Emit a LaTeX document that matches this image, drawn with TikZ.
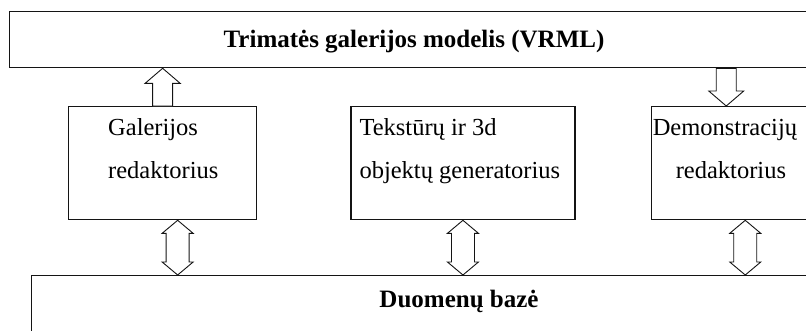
\documentclass[tikz,border=0pt]{standalone}
\usepackage{fontspec}
\setmainfont{Liberation Serif}
\usepackage{tikz}
\usetikzlibrary{positioning, calc}
\definecolor{linegray}{RGB}{20,20,20}
\tikzset{
  box/.style={rectangle, draw=linegray, line width=1.3pt, inner sep=0pt,
    anchor=north west},
  boxtext/.style={anchor=base west, inner sep=0pt, align=left},
  titletext/.style={anchor=base, inner sep=0pt, font=\fontsize{25}{43}\selectfont\bfseries},
  fatarrow/.style={draw=linegray, line width=0.9pt, fill=white, line join=miter},
}
% block arrow: shaft at #1, head at the level of #2
\newcommand{\singlearr}[2]{%
  \draw[fatarrow] let \p1=(#1), \p2=(#2), \n1={sign(\y1-\y2)} in
    ({\x1-10pt},\y1) -- ({\x1-10pt},{\y2+(\n1)*15pt}) -- ({\x1-17.5pt},{\y2+(\n1)*15pt})
    -- (\x1,\y2) -- ({\x1+17.5pt},{\y2+(\n1)*15pt}) -- ({\x1+10pt},{\y2+(\n1)*15pt})
    -- ({\x1+10pt},\y1) -- cycle;}
% double block arrow, from #1 (top) down to the level of #2
\newcommand{\doublearr}[2]{%
  \draw[fatarrow] let \p1=(#1), \p2=(#2) in
    (\x1,\y1) -- ({\x1+15.5pt},{\y1-13pt}) -- ({\x1+11.5pt},{\y1-13pt})
    -- ({\x1+11.5pt},{\y2+13pt}) -- ({\x1+15.5pt},{\y2+13pt}) -- (\x1,\y2)
    -- ({\x1-15.5pt},{\y2+13pt}) -- ({\x1-11.5pt},{\y2+13pt})
    -- ({\x1-11.5pt},{\y1-13pt}) -- ({\x1-15.5pt},{\y1-13pt}) -- cycle;}

\begin{document}
\begin{tikzpicture}[x=1pt, y=-1pt, font=\fontsize{24.5}{43}\selectfont]
  \useasboundingbox (0,0) rectangle (806,330);
  \clip (0,0) rectangle (806,330);

  \node[box, minimum width=810pt, minimum height=56pt] (model) at (9,11) {};
  \node[titletext] (modeltitle) at (414,47) {Trimatės galerijos modelis (VRML)};

  \node[box, minimum width=188pt, minimum height=113pt] (gal) at (68,106) {};
  \node[box, minimum width=224pt, minimum height=113pt, right=93pt of gal.north east, anchor=north west] (tex) {};
  \node[box, minimum width=200pt, minimum height=113pt, right=75pt of tex.north east, anchor=north west] (demo) {};

  % base anchor sits on the second line
  \node[boxtext] (galtext) at ($(gal.north west)+(40,72)$) {Galerijos\\redaktorius};
  \node[boxtext] (textext) at ($(tex.north west)+(9,72)$) {Tekstūrų ir 3d\\objektų generatorius};
  \node[boxtext] (demotext) at ($(demo.north west)+(2,72)$) {Demonstracijų\\\hspace{23pt}redaktorius};

  \node[box, minimum width=856pt, minimum height=80pt] (db) at (31,275) {};
  \node[titletext] (dbtitle) at (459,307) {Duomenų bazė};

  \singlearr{gal.north}{model.south}
  \singlearr{$(model.south -| demo.north)+(-25,0)$}{demo.north}

  \doublearr{$(gal.south)+(15,0)$}{db.north}
  \doublearr{tex.south}{db.north}
  \doublearr{$(demo.south)+(-6,0)$}{db.north}
\end{tikzpicture}
\end{document}
